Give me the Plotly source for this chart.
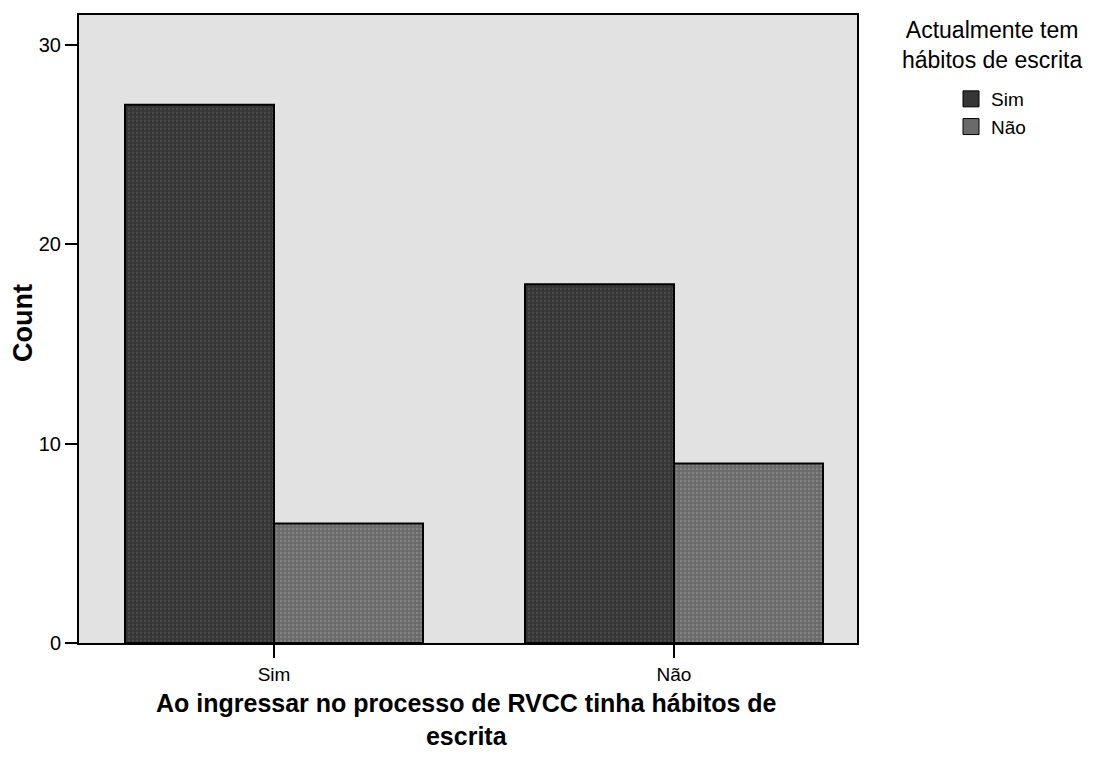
import plotly.graph_objects as go

# Entry habits (x categories) split by current writing habits (series)
categories = ["Sim", "Não"]
series_names = ["Sim", "Não"]
counts_sim = [27, 18]
counts_nao = [6, 9]
y_ticks = [0, 10, 20, 30]

FONT = "Liberation Sans, Arial, sans-serif"
DARK = "#363636"
MID = "#6a6a6a"

# plot area in pixels
L, R, T, B = 79, 857, 15, 643
W, H = R - L, B - T


def px_x(px):
    return (px - L) / W


def px_y(py):
    return (B - py) / H


fig = go.Figure()
fig.add_trace(go.Bar(
    x=categories, y=counts_sim, name=series_names[0], legendgroup="sim", showlegend=False,
    marker=dict(color=DARK, line=dict(color="#000000", width=2),
                pattern=dict(shape=".", fgcolor="#606060", size=4, solidity=0.25)),
))
fig.add_trace(go.Bar(
    x=categories, y=counts_nao, name=series_names[1], legendgroup="nao", showlegend=False,
    marker=dict(color=MID, line=dict(color="#000000", width=2),
                pattern=dict(shape=".", fgcolor="#9a9a9a", size=4, solidity=0.3)),
))
# legend entries with larger square swatches
for name, col, grp in [(series_names[0], DARK, "sim"), (series_names[1], MID, "nao")]:
    fig.add_trace(go.Scatter(
        x=[None], y=[None], mode="markers", name=name, legendgroup=grp,
        marker=dict(symbol="square", size=17, color=col, line=dict(color="#000000", width=1)),
    ))

fig.update_layout(
    width=1100, height=758,
    margin=dict(l=L, r=1100 - R, t=T, b=758 - B),
    paper_bgcolor="white",
    plot_bgcolor="#e2e2e2",
    barmode="group",
    bargap=0.255,
    bargroupgap=0,
    font=dict(family=FONT, color="#000000", size=20),
    showlegend=True,
    legend=dict(
        x=px_x(951), y=px_y(80), xanchor="left", yanchor="top",
        font=dict(size=19, family=FONT),
        itemwidth=30, tracegroupgap=0,
        bgcolor="rgba(0,0,0,0)",
    ),
    xaxis=dict(
        type="category",
        range=[-0.4875, 1.4575],
        showgrid=False, zeroline=False,
        showline=True, linecolor="#000000", linewidth=2, mirror=True,
        ticks="outside", ticklen=13, tickwidth=2, tickcolor="#000000",
        tickfont=dict(size=19, family=FONT),
    ),
    yaxis=dict(
        range=[0, 31.5],
        tickvals=y_ticks,
        showgrid=False, zeroline=False,
        showline=True, linecolor="#000000", linewidth=2, mirror=True,
        ticks="outside", ticklen=12, tickwidth=2, tickcolor="#000000",
        tickfont=dict(size=20, family=FONT),
    ),
    annotations=[
        dict(text="<b>Count</b>", x=px_x(23), y=px_y(323), xref="paper", yref="paper",
             xanchor="center", yanchor="middle",
             showarrow=False, textangle=-90, font=dict(size=27, family=FONT)),
        dict(text="<b>Ao ingressar no processo de RVCC tinha hábitos de<br>escrita</b>",
             x=px_x(466), y=px_y(719), xref="paper", yref="paper",
             xanchor="center", yanchor="middle",
             showarrow=False, font=dict(size=25, family=FONT)),
        dict(text="Actualmente tem<br>hábitos de escrita",
             x=px_x(992), y=px_y(45), xref="paper", yref="paper",
             xanchor="center", yanchor="middle",
             showarrow=False, font=dict(size=23, family=FONT)),
    ],
)

fig.write_html("out.html")
